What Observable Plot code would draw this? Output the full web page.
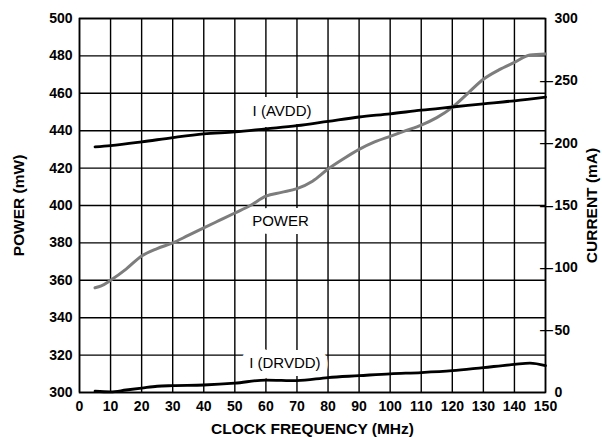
<!DOCTYPE html>
<html>
<head>
<meta charset="utf-8">
<script src="https://cdn.jsdelivr.net/npm/d3@7"></script>
<script src="https://cdn.jsdelivr.net/npm/@observablehq/plot@0.6"></script>
<style>
  html, body { margin: 0; padding: 0; background: #fff; }
  #chart svg { display: block; }
</style>
</head>
<body>
<div id="chart"></div>
<script>
// Frequency ticks (MHz)
const freqTicks = [0,10,20,30,40,50,60,70,80,90,100,110,120,130,140,150];
// Power axis ticks (mW)
const powerTicks = [300,320,340,360,380,400,420,440,460,480,500];
// Current axis ticks (mA); the inner ones also carry a tick mark
const currentTicks = [0,50,100,150,200,250,300];
const currentTickMarks = [50,100,150,200,250];

// POWER series (mW)
const powerFreq = [5,7,10,15,20,25,30,35,40,45,50,55,60,65,70,75,80,85,90,95,100,105,110,115,120,125,130,135,140,145,150];
const powerMW   = [356,357,360,366,373,377,380,384,388,392,396,400,405,407,409,413,419.5,425,430,434,437,440,443,447,452.5,460,467.5,472.5,476.5,480.5,481];

// I (AVDD) series (mA)
const avddFreq = [5,10,20,30,40,50,60,70,80,90,100,110,120,130,140,150];
const avddMA   = [197,198,201,204.5,207.5,209,211.5,214,217.5,221,223.5,226.5,229,231.5,234,237];

// I (DRVDD) series (mA)
const drvddFreq = [5,10,15,20,25,30,40,50,60,70,80,90,100,110,120,130,140,145,150];
const drvddMA   = [1,0.5,2,3.5,5,5.5,6,7.5,10,9.5,12,13.5,15,16,17.5,20,22.5,23.5,21.5];

// Annotation labels (frequency MHz, power-axis mW)
const labelText = ["I (AVDD)", "POWER", "I (DRVDD)"];
const labelFreq = [65.2, 64.7, 66.1];
const labelMW   = [450.3, 391.4, 315.8];

// current (0..300 mA) shares the plot with power (300..500 mW)
const toPower = c => 300 + c / 1.5;
const toCurrent = p => Math.round((p - 300) * 1.5);
const xMax = d3.max(freqTicks);

const power = powerFreq.map((f, i) => ({f, v: powerMW[i]}));
const avdd = avddFreq.map((f, i) => ({f, v: toPower(avddMA[i])}));
const drvdd = drvddFreq.map((f, i) => ({f, v: toPower(drvddMA[i])}));
const labels = labelText.map((t, i) => ({t, f: labelFreq[i], v: labelMW[i]}));
const tickRows = currentTickMarks.map(c => ({f: xMax, v: toPower(c)}));

const font = "'Liberation Sans', Arial, Helvetica, sans-serif";
const blank = () => "";
const titleStyle = {tickSize: 0, tickFormat: blank, fontSize: 15.5, fontWeight: "bold", labelAnchor: "center", labelArrow: "none"};

const chart = Plot.plot({
  width: 602,
  height: 437,
  marginLeft: 79,
  marginRight: 57,
  marginTop: 18,
  marginBottom: 45,
  style: {fontFamily: font, background: "#fff", color: "#000", overflow: "visible"},
  x: {type: "linear", domain: [0, xMax]},
  y: {type: "linear", domain: [300, 500]},
  marks: [
    Plot.gridX(freqTicks, {stroke: "#000", strokeOpacity: 1, strokeWidth: 1.4}),
    Plot.gridY(powerTicks, {stroke: "#000", strokeOpacity: 1, strokeWidth: 1.4}),
    Plot.frame({stroke: "#000", strokeWidth: 1.6}),
    // tick labels
    Plot.axisX(freqTicks, {tickSize: 0, tickPadding: 9, fontSize: 14, fontWeight: "bold", label: null}),
    Plot.axisY(powerTicks, {anchor: "left", tickSize: 0, tickPadding: 7, fontSize: 14, fontWeight: "bold", label: null}),
    Plot.axisY(currentTicks.map(toPower), {
      anchor: "right", tickSize: 0, tickPadding: 9, fontSize: 14, fontWeight: "bold",
      tickFormat: toCurrent, label: null
    }),
    // axis titles
    Plot.axisX([0], {...titleStyle, label: "CLOCK FREQUENCY (MHz)", labelOffset: 41}),
    Plot.axisY([300], {...titleStyle, anchor: "left", label: "POWER (mW)", labelOffset: 67}),
    Plot.axisY([300], {...titleStyle, anchor: "right", label: "CURRENT (mA)", labelOffset: 51}),
    Plot.text(labels, {
      x: "f", y: "v", text: "t", fontSize: 15, fill: "#000",
      stroke: "#fff", strokeWidth: 16, strokeLinejoin: "round"
    }),
    Plot.line(power, {x: "f", y: "v", stroke: "#7d7d7d", strokeWidth: 3, curve: "monotone-x"}),
    Plot.line(avdd, {x: "f", y: "v", stroke: "#000", strokeWidth: 2.8, curve: "monotone-x"}),
    Plot.line(drvdd, {x: "f", y: "v", stroke: "#000", strokeWidth: 2.8, curve: "monotone-x"}),
    // right-axis tick marks crossing the frame edge
    Plot.text(tickRows, {x: "f", y: "v", text: () => "\u2014", fontSize: 13, fontWeight: "bold", dx: 1, fill: "#000"})
  ]
});
document.getElementById("chart").append(chart);
</script>
</body>
</html>
